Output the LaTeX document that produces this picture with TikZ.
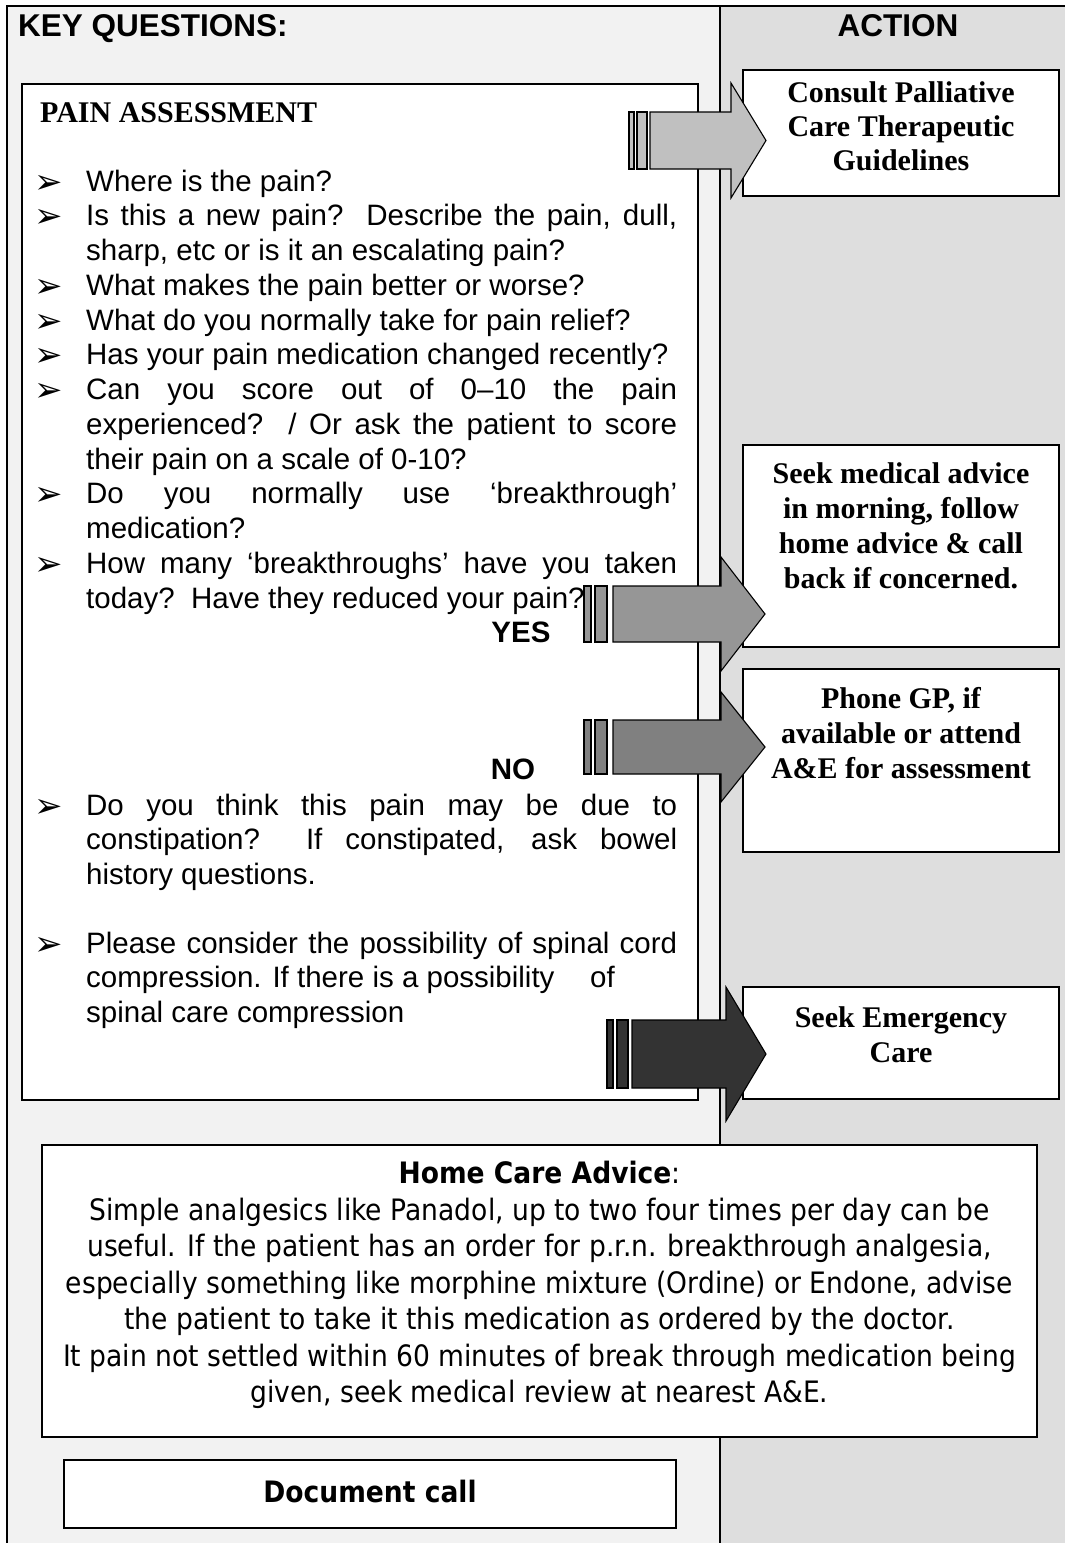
\documentclass[tikz,border=0pt]{standalone}
\usepackage{fontspec}
\setmainfont{Liberation Sans}
\newfontfamily\serff{Liberation Serif}
\newfontfamily\tahf[FakeStretch=0.9]{DejaVu Sans}
\newfontfamily\djv{DejaVu Sans}
\definecolor{leftbg}{HTML}{F2F2F2}
\definecolor{rightbg}{HTML}{DEDEDE}
\definecolor{arrA}{HTML}{C0C0C0}
\definecolor{arrB}{HTML}{969696}
\definecolor{arrC}{HTML}{808080}
\definecolor{arrD}{HTML}{333333}
\newcommand\qsize{\fontsize{29.5}{34.75}\selectfont}
\newcommand\jl[1]{\makebox[591pt][s]{#1}}
\begin{document}
\begin{tikzpicture}[x=1pt,y=-1pt,
  q/.style={anchor=base west, inner sep=0pt, font=\qsize},
  bul/.style={anchor=base west, inner sep=0pt, font=\djv\fontsize{34}{34}\selectfont},
  hdr/.style={inner sep=0pt, font=\bfseries\fontsize{31.5}{32}\selectfont},
  act/.style={anchor=base, inner sep=0pt, font=\serff\bfseries\fontsize{30}{34.5}\selectfont},
  home/.style={anchor=base, inner sep=0pt, font=\tahf\fontsize{29.5}{36.5}\selectfont},
  box/.style={draw=black, line width=1.2pt, fill=white, inner sep=0pt, outer sep=0pt, anchor=north west},
  frame/.style={line width=1.6pt},
  arr/.style={draw=black, line width=1.1pt, line join=miter}]
\useasboundingbox (0,0) rectangle (1065,1543);
\fill[white] (0,0) rectangle (1065,1543);
\fill[leftbg] (7,6) rectangle (720,1543);
\fill[rightbg] (720,6) rectangle (1065,1543);
\draw[frame] (7,1543) -- (7,6) -- (1065,6);
\draw[frame] (720,6) -- (720,1543);

% headers
\node[hdr, anchor=base west] (kq) at (18,36) {KEY QUESTIONS:};
\node[hdr, anchor=base] (act) at (898,36) {ACTION};

% boxes
\node[box, minimum width=676pt, minimum height=1016pt] (pain) at (22,84) {};
\node[box, minimum width=316pt, minimum height=126pt] (consult) at (743,70) {};
\node[box, minimum width=316pt, minimum height=202pt] (seek) at (743,445) {};
\node[box, minimum width=316pt, minimum height=183pt] (phone) at (743,669) {};
\node[box, minimum width=316pt, minimum height=112pt] (emerg) at (743,987) {};
\node[box, minimum width=995pt, minimum height=292pt] (home) at (42,1145) {};
\node[box, minimum width=612pt, minimum height=68pt] (doc) at (64,1460) {};

% pain assessment
\node[anchor=base west, inner sep=0pt, font=\serff\bfseries\fontsize{30}{30}\selectfont] (pt) at (40,122) {PAIN ASSESSMENT};

\node[bul] (b1) at (34,193) {➢};
\node[q] (q1) at (86,191) {Where is the pain?};
\node[bul] (b2) at (34,227.75) {➢};
\node[q] (q2) at (86,225.75) {\jl{Is this a new pain?\ \ Describe the pain, dull,}};
\node[q] (q2b) at (86,260.5) {sharp, etc or is it an escalating pain?};
\node[bul] (b3) at (34,297.25) {➢};
\node[q] (q3) at (86,295.25) {What makes the pain better or worse?};
\node[bul] (b4) at (34,332) {➢};
\node[q] (q4) at (86,330) {What do you normally take for pain relief?};
\node[bul] (b5) at (34,366.75) {➢};
\node[q] (q5) at (86,364.75) {Has your pain medication changed recently?};
\node[bul] (b6) at (34,401.5) {➢};
\node[q] (q6) at (86,399.5) {\jl{Can you score out of 0–10 the pain}};
\node[q] (q6b) at (86,434.25) {\jl{experienced?\ \ / Or ask the patient to score}};
\node[q] (q6c) at (86,469) {their pain on a scale of 0-10?};
\node[bul] (b7) at (34,505.75) {➢};
\node[q] (q7) at (86,503.75) {\jl{Do you normally use ‘breakthrough’}};
\node[q] (q7b) at (86,538.5) {medication?};
\node[bul] (b8) at (34,575.25) {➢};
\node[q] (q8) at (86,573.25) {\jl{How many ‘breakthroughs’ have you taken}};
\node[q] (q8b) at (86,608) {today?\ \ Have they reduced your pain?};

\node[anchor=base, inner sep=0pt, font=\bfseries\fontsize{29.5}{30}\selectfont] (yes) at (521,642) {YES};
\node[anchor=base, inner sep=0pt, font=\bfseries\fontsize{29.5}{30}\selectfont] (no) at (513,779) {NO};

\node[bul] (b9) at (34,817) {➢};
\node[q] (q9) at (86,815) {\jl{Do you think this pain may be due to}};
\node[q] (q9b) at (86,849.75) {\jl{constipation?\ \ If constipated, ask bowel}};
\node[q] (q9c) at (86,884.5) {history questions.};
\node[bul] (b10) at (34,955) {➢};
\node[q] (q10) at (86,953) {\jl{Please consider the possibility of spinal cord}};
\node[q] (q10b) at (86,987.75) {\makebox[504pt][l]{compression. If there is a possibility}of};
\node[q] (q10c) at (86,1022.5) {spinal care compression};

% action texts
\foreach \t [count=\i from 0] in {{Consult Palliative},{Care Therapeutic},{Guidelines}}
  \node[act] (ca\i) at (901,102+34*\i) {\t};
\foreach \t [count=\i from 0] in {{Seek medical advice},{in morning, follow},{home advice \& call},{back if concerned.}}
  \node[act] (sa\i) at (901,483+35*\i) {\t};
\foreach \t [count=\i from 0] in {{Phone GP, if},{available or attend},{A\&E for assessment}}
  \node[act] (pa\i) at (901,708+35*\i) {\t};
\foreach \t [count=\i from 0] in {{Seek Emergency},{Care}}
  \node[act] (ea\i) at (901,1027+35*\i) {\t};

% home care advice
\node[home] (h0) at (539.5,1183.5) {{\bfseries Home Care Advice}:};
\node[home] (h1) at (539.5,1220) {Simple analgesics like Panadol, up to two four times per day can be};
\node[home] (h2) at (539.5,1256.5) {useful. If the patient has an order for p.r.n. breakthrough analgesia,};
\node[home] (h3) at (539.5,1293) {especially something like morphine mixture (Ordine) or Endone, advise};
\node[home] (h4) at (539.5,1329.5) {the patient to take it this medication as ordered by the doctor.};
\node[home] (h5) at (539.5,1366) {It pain not settled within 60 minutes of break through medication being};
\node[home] (h6) at (539.5,1402.5) {given, seek medical review at nearest A\&E.};

\node[home, font=\tahf\bfseries\fontsize{29.5}{30}\selectfont] (dc) at (370,1502) {Document call};

% block arrows
\filldraw[arr, fill=arrA] (629,112) rectangle (634,169);
\filldraw[arr, fill=arrA] (637,112) rectangle (647,169);
\filldraw[arr, fill=arrA] (650,112) -- (731,112) -- (731,83) -- (766,140.5) -- (731,198) -- (731,169) -- (650,169) -- cycle;

\filldraw[arr, fill=arrB] (584,586) rectangle (591,642);
\filldraw[arr, fill=arrB] (595,586) rectangle (607,642);
\filldraw[arr, fill=arrB] (613,586) -- (721,586) -- (721,557) -- (765,614) -- (721,671) -- (721,642) -- (613,642) -- cycle;

\filldraw[arr, fill=arrC] (584,720) rectangle (591,774);
\filldraw[arr, fill=arrC] (595,720) rectangle (607,774);
\filldraw[arr, fill=arrC] (613,720) -- (721,720) -- (721,692) -- (765,747) -- (721,802) -- (721,774) -- (613,774) -- cycle;

\filldraw[arr, fill=arrD] (607,1020) rectangle (613,1088);
\filldraw[arr, fill=arrD] (617,1020) rectangle (628,1088);
\filldraw[arr, fill=arrD] (632,1020) -- (726,1020) -- (726,987) -- (766,1054) -- (726,1121) -- (726,1088) -- (632,1088) -- cycle;
\end{tikzpicture}
\end{document}
